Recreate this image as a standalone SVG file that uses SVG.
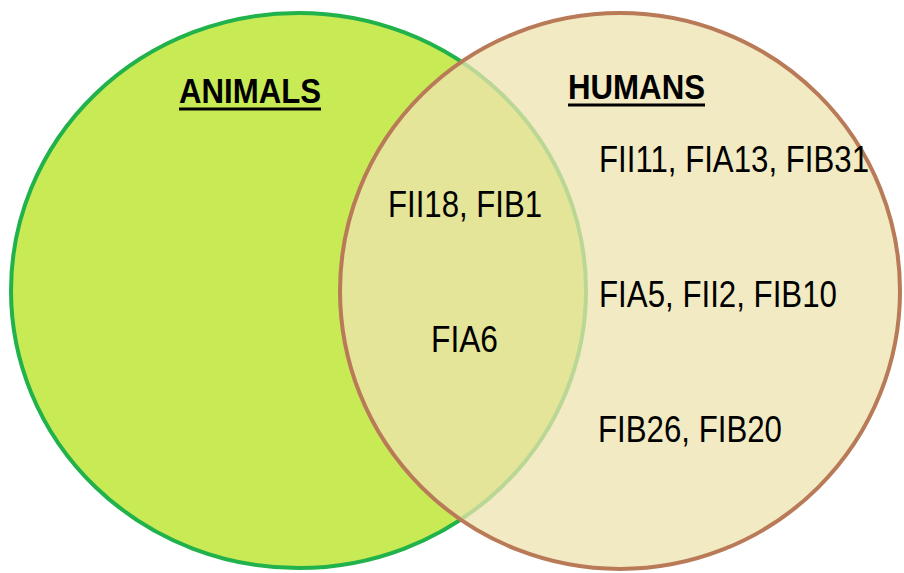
<svg xmlns="http://www.w3.org/2000/svg" width="904" height="573" viewBox="0 0 904 573">
  <style>
    .title { font-family: "Liberation Sans", Arial, sans-serif; font-weight: bold; font-size: 35px; fill: #000; }
    .item { font-family: "Liberation Sans", Arial, sans-serif; font-size: 36px; fill: #000; }
    .rule { fill: #000; }
  </style>
  <rect width="904" height="573" fill="#fff"/>

  <!-- Set: animals -->
  <g id="set-animals">
    <ellipse cx="298.5" cy="290.5" rx="287.5" ry="277.5" fill="#C8EB55" stroke="#22B24C" stroke-width="4"/>
  </g>

  <!-- Set: humans (translucent fill so the overlap shows through) -->
  <g id="set-humans">
    <ellipse cx="620" cy="291" rx="280" ry="278" fill="#EEE3AF" fill-opacity="0.75" stroke="#B97A57" stroke-width="4"/>
  </g>

  <!-- Set titles -->
  <g id="label-animals">
    <text class="title" x="179" y="103" textLength="142" lengthAdjust="spacingAndGlyphs">ANIMALS</text>
    <rect class="rule" x="179" y="107.5" width="142" height="3"/>
  </g>
  <g id="label-humans">
    <text class="title" x="568" y="99" textLength="137" lengthAdjust="spacingAndGlyphs">HUMANS</text>
    <rect class="rule" x="568" y="103.5" width="137" height="3"/>
  </g>

  <!-- Members found in both sets -->
  <g id="shared">
    <text class="item" x="388" y="217" textLength="154" lengthAdjust="spacingAndGlyphs">FII18, FIB1</text>
    <text class="item" x="431" y="352" textLength="67" lengthAdjust="spacingAndGlyphs">FIA6</text>
  </g>

  <!-- Members found in humans only -->
  <g id="humans-only">
    <text class="item" x="599" y="172" textLength="270" lengthAdjust="spacingAndGlyphs">FII11, FIA13, FIB31</text>
    <text class="item" x="599" y="307" textLength="238" lengthAdjust="spacingAndGlyphs">FIA5, FII2, FIB10</text>
    <text class="item" x="598" y="442" textLength="184" lengthAdjust="spacingAndGlyphs">FIB26, FIB20</text>
  </g>

  <g id="connectors"/>
</svg>
